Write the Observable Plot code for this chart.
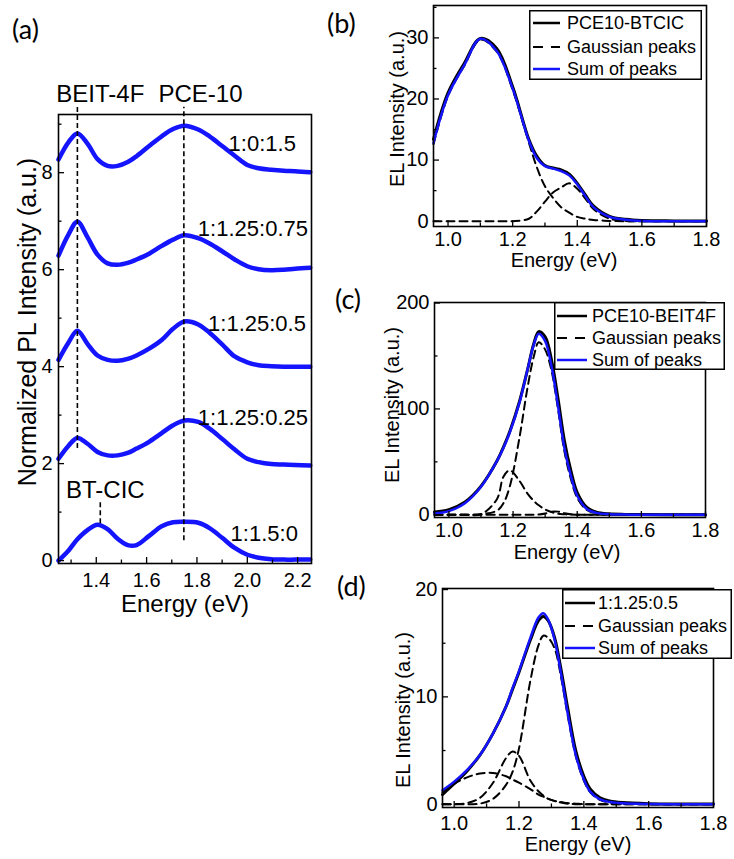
<!DOCTYPE html>
<html>
<head>
<meta charset="utf-8">
<script src="https://cdn.jsdelivr.net/npm/d3@7"></script>
<script src="https://cdn.jsdelivr.net/npm/@observablehq/plot@0.6"></script>
<style>
  html, body { margin: 0; padding: 0; background: #fff; }
  #wrap { position: relative; width: 734px; height: 859px; overflow: hidden; background: #fff; }
  .panel { position: absolute; }
</style>
</head>
<body>
<div id="wrap"></div>
<script>
// ---------------- Panel (a): normalized PL spectra ----------------
const plEnergy = [1.25,1.29,1.325,1.365,1.405,1.445,1.485,1.525,1.56,1.61,1.66,1.705,1.75,1.805,1.85,1.90,1.95,2.0,2.045,2.095,2.145,2.19,2.25];
const plRatios = ["1:0:1.5","1:1.25:0.75","1:1.25:0.5","1:1.25:0.25","1:1.5:0"];
const plR1 = [8.27,8.63,8.81,8.60,8.28,8.14,8.14,8.22,8.34,8.55,8.75,8.90,8.97,8.89,8.75,8.55,8.35,8.16,8.09,8.06,8.04,8.03,8.01];
const plR2 = [6.29,6.73,6.99,6.67,6.31,6.13,6.10,6.14,6.21,6.33,6.49,6.62,6.71,6.65,6.54,6.38,6.21,6.07,6.01,5.99,6.00,6.02,6.04];
const plR3 = [4.14,4.50,4.74,4.47,4.23,4.14,4.12,4.16,4.23,4.37,4.55,4.78,4.93,4.87,4.70,4.46,4.21,4.09,4.03,4.01,4.00,4.00,4.00];
const plR4 = [2.10,2.37,2.53,2.41,2.24,2.17,2.17,2.22,2.31,2.45,2.63,2.79,2.89,2.86,2.72,2.51,2.29,2.10,2.03,1.99,1.98,1.97,1.96];
const plR5 = [0.00,0.21,0.44,0.63,0.74,0.65,0.45,0.32,0.32,0.51,0.71,0.79,0.80,0.78,0.67,0.47,0.26,0.12,0.06,0.03,0.02,0.02,0.02];
const ratioLabelE = [2.193,2.241,2.233,2.241,2.201];
const ratioLabelI = [8.60,6.83,4.89,2.94,0.54];

const peakNames = ["BEIT-4F","PCE-10","BT-CIC"];
const peakE = [1.325,1.748,1.416];
const peakFrom = [2.31,0.41,0.76];
const peakTo = [9.35,9.35,1.24];
const peakLabelE = [1.416,1.814,1.436];
const peakLabelI = [9.62,9.62,1.44];

const aXMajor = [1.4,1.6,1.8,2.0,2.2];
const aXMinor = [1.3,1.5,1.7,1.9,2.1];
const aYMajor = [0,2,4,6,8];
const aYMinor = [1,3,5,7,9];

// ---------------- Panel (b): PCE10-BTCIC EL ----------------
const elEnergyB = [0.955,1.0,1.05,1.10,1.15,1.20,1.25,1.275,1.30,1.325,1.35,1.375,1.40,1.425,1.45,1.50,1.55,1.60,1.70,1.80];
const elDataB  = [13.4,21.0,25.8,29.9,28.3,22.0,13.4,10.6,9.1,8.7,8.4,7.7,6.2,4.3,2.5,0.8,0.3,0.1,0.05,0.05];
const elFitB   = [12.8,20.6,25.5,29.85,27.9,21.7,13.2,10.3,9.0,8.6,8.2,7.5,6.0,4.1,2.3,0.7,0.25,0.05,0,0];
const gaussB1  = [12.6,20.5,25.4,29.7,27.8,21.5,12.9,8.8,5.7,3.8,2.3,1.4,0.7,0.4,0.2,0.05,0,0,0,0];
const gaussB2  = [0,0,0,0,0,0,0.4,1.6,3.2,4.7,5.5,6.2,5.3,3.7,2.0,0.4,0.05,0,0,0];

// ---------------- Panel (c): PCE10-BEIT4F EL ----------------
const elEnergyC = [0.955,1.0,1.05,1.10,1.15,1.17,1.19,1.22,1.245,1.265,1.28,1.30,1.32,1.34,1.36,1.38,1.40,1.43,1.46,1.50,1.55,1.60,1.70,1.80];
const elDataC  = [2.6,4.8,12,27,51,64,79,107,137,162,173,168,146,110,70,42,21,7,2.5,0.9,0.4,0.2,0.1,0.1];
const elFitC   = [1.3,3.5,11,26.5,51,63,78,106,137,161,171,164,140,103,63,37,18,5.5,1.8,0.6,0.2,0.05,0,0];
const gaussC1  = [0,0,0,0.5,4,11,27,73,120,150,163,156,136,100,60,34,16,4.5,1.5,0.5,0,0,0,0];
const gaussC2  = [0,0,0,0.5,15,36,42,32,20,13,9,5,2.5,1,0.5,0.2,0,0,0,0,0,0,0,0];
const gaussC3  = [0,0,0,0,0,0,0,0,0,0,0.2,1.2,3,3,1.5,0.5,0.1,0,0,0,0,0,0,0];

// ---------------- Panel (d): 1:1.25:0.5 EL ----------------
const elEnergyD = [0.964,1.0,1.04,1.08,1.12,1.16,1.18,1.20,1.235,1.26,1.275,1.29,1.31,1.33,1.35,1.375,1.40,1.42,1.45,1.48,1.52,1.60,1.70,1.80];
const elDataD  = [0.9,1.9,3.1,4.6,6.6,9.1,10.7,12.3,15.3,17.1,17.5,17.1,15.5,12.5,9.0,5.0,2.6,1.4,0.6,0.3,0.15,0.05,0.02,0.02];
const elFitD   = [1.3,2.1,3.2,4.6,6.6,9.1,10.8,12.4,15.5,17.4,17.8,17.2,15.3,12.1,8.5,4.6,2.3,1.15,0.45,0.2,0.08,0.02,0,0];
const gaussD1  = [0,0,0,0.05,0.5,1.8,3.0,5.2,11.5,14.8,15.7,15.5,14.5,11.8,8.3,4.5,2.2,1.1,0.4,0.15,0.05,0,0,0];
const gaussD2  = [0,0,0.1,0.6,2.0,4.3,4.9,4.5,2.2,1.2,0.8,0.5,0.3,0.15,0.05,0,0,0,0,0,0,0,0,0];
const gaussD3  = [1.1,1.9,2.5,2.85,2.9,2.6,2.3,2.0,1.4,0.9,0.7,0.5,0.3,0.2,0.1,0.05,0,0,0,0,0,0,0,0];

const elXMajor = [1.0,1.2,1.4,1.6,1.8];
const elXMinor = [1.1,1.3,1.5,1.7];
const legendTexts = {
  b: ["PCE10-BTCIC","Gaussian peaks","Sum of peaks"],
  c: ["PCE10-BEIT4F","Gaussian peaks","Sum of peaks"],
  d: ["1:1.25:0.5","Gaussian peaks","Sum of peaks"]
};

// ---------------- helpers ----------------
const FONT = '"Liberation Sans", Arial, Helvetica, sans-serif';
const BLUE = "#1414ff";
const wrap = document.getElementById("wrap");
const fmt1 = d3.format(".1f");

function place(node, left, top, w, h) {
  const d = document.createElement("div");
  d.className = "panel";
  d.style.left = left + "px"; d.style.top = top + "px";
  d.style.width = w + "px"; d.style.height = h + "px";
  d.appendChild(node);
  wrap.appendChild(d);
}

function inwardTicks(xMajor, xMinor, yMajor, yMinor, fw, fh) {
  const s = {stroke: "black", strokeWidth: 1.3};
  return [
    Plot.ruleX(xMajor, {x: d => d, insetTop: fh - 6, ...s}),
    Plot.ruleX(xMinor, {x: d => d, insetTop: fh - 3.5, ...s}),
    Plot.ruleY(yMajor, {y: d => d, insetRight: fw - 6, ...s}),
    Plot.ruleY(yMinor, {y: d => d, insetRight: fw - 3.5, ...s})
  ];
}

function plotStyle() {
  return {fontFamily: FONT, fontSize: "20px", color: "black", background: "transparent", overflow: "visible"};
}

// ---------------- Panel (a) ----------------
(function () {
  const W = 320, H = 625, mt = 114, ml = 58, mr = 9, mb = 62;
  const fw = W - ml - mr, fh = H - mt - mb;
  const series = [plR1, plR2, plR3, plR4, plR5];
  const rows = [];
  series.forEach((vals, si) => vals.forEach((v, i) => rows.push({E: plEnergy[i], I: v, s: plRatios[si]})));
  const ratioRows = plRatios.map((r, i) => ({label: r, E: ratioLabelE[i], I: ratioLabelI[i]}));
  const peakRows = peakNames.map((n, i) => ({name: n, E: peakE[i], lo: peakFrom[i], hi: peakTo[i], lE: peakLabelE[i], lI: peakLabelI[i]}));
  const svg = Plot.plot({
    width: W, height: H, marginTop: mt, marginLeft: ml, marginRight: mr, marginBottom: mb,
    style: plotStyle(),
    x: {domain: [1.25, 2.255]},
    y: {domain: [-0.06, 9.2]},
    marks: [
      Plot.line(rows, {x: "E", y: "I", z: "s", stroke: BLUE, strokeWidth: 4.5, curve: "catmull-rom"}),
      Plot.ruleX(peakRows, {x: "E", y1: "lo", y2: "hi", stroke: "black", strokeWidth: 1.6, strokeDasharray: "5,3"}),
      Plot.text(ratioRows, {x: "E", y: "I", text: "label", textAnchor: "end", lineAnchor: "middle", fontSize: 22, fill: "black"}),
      Plot.text(peakRows, {x: "lE", y: "lI", text: "name", textAnchor: "middle", lineAnchor: "middle", fontSize: 24, fill: "black"}),
      ...inwardTicks(aXMajor, aXMinor, aYMajor, aYMinor, fw, fh),
      Plot.frame({stroke: "black", strokeWidth: 1.6}),
      Plot.axisX({ticks: aXMajor, tickSize: 0, tickPadding: 9, tickFormat: fmt1, label: null, fontSize: 20}),
      Plot.axisY({ticks: aYMajor, tickSize: 0, tickPadding: 6, label: null, fontSize: 20}),
      Plot.text(["Energy (eV)"], {text: d => d, frameAnchor: "bottom", textAnchor: "middle", dy: 41, lineAnchor: "middle", fontSize: 24, fill: "black"}),
      Plot.text(["Normalized PL Intensity (a.u.)"], {text: d => d, frameAnchor: "left", textAnchor: "middle", rotate: -90, dx: -31, dy: -17, lineAnchor: "middle", fontSize: 25, fill: "black"})
    ]
  });
  place(svg, 0, 0, W, H);
})();

// ---------------- EL panels ----------------
function elPanel(cfg) {
  const {left, top, W, H, mt, ml, mr, mb, xDomain, yDomain, yMajor, yMinor, energy, data, fit, gauss, padX, xtDx, xtDy, ytDx, ytDy} = cfg;
  const fw = W - ml - mr, fh = H - mt - mb;
  const toRows = arr => energy.map((e, i) => ({E: e, I: arr[i]}));
  const gRows = [];
  gauss.forEach((g, k) => g.forEach((v, i) => gRows.push({E: energy[i], I: v, k})));
  const svg = Plot.plot({
    width: W, height: H, marginTop: mt, marginLeft: ml, marginRight: mr, marginBottom: mb,
    style: plotStyle(),
    x: {domain: xDomain},
    y: {domain: yDomain},
    marks: [
      Plot.line(gRows, {x: "E", y: "I", z: "k", stroke: "black", strokeWidth: 2, strokeDasharray: "8,5", curve: "catmull-rom"}),
      Plot.line(toRows(data), {x: "E", y: "I", stroke: "black", strokeWidth: 3, curve: "catmull-rom"}),
      Plot.line(toRows(fit), {x: "E", y: "I", stroke: BLUE, strokeWidth: 2.5, curve: "catmull-rom"}),
      ...inwardTicks(elXMajor, elXMinor, yMajor, yMinor, fw, fh),
      Plot.frame({stroke: "black", strokeWidth: 1.6}),
      Plot.axisX({ticks: elXMajor, tickSize: 0, tickPadding: padX, tickFormat: fmt1, label: null, fontSize: 20}),
      Plot.axisY({ticks: yMajor, tickSize: 0, tickPadding: 5, label: null, fontSize: 20}),
      Plot.text(["Energy (eV)"], {text: d => d, frameAnchor: "bottom", textAnchor: "middle", dx: xtDx, dy: xtDy, lineAnchor: "middle", fontSize: 20, fill: "black"}),
      Plot.text(["EL Intensity (a.u.)"], {text: d => d, frameAnchor: "left", textAnchor: "middle", rotate: -90, dx: ytDx, dy: ytDy, lineAnchor: "middle", fontSize: 20, fill: "black"})
    ]
  });
  place(svg, left, top, W, H);
}

elPanel({left: 320, top: 0, W: 414, H: 275, mt: 5, ml: 113, mr: 28, mb: 49,
  xDomain: [0.955, 1.8], yDomain: [-0.87, 35.3], yMajor: [0,10,20,30], yMinor: [5,15,25,35],
  energy: elEnergyB, data: elDataB, fit: elFitB, gauss: [gaussB1, gaussB2],
  padX: 5, xtDx: -6, xtDy: 34, ytDx: -36, ytDy: -7});

elPanel({left: 320, top: 270, W: 414, H: 300, mt: 32, ml: 114, mr: 29, mb: 53,
  xDomain: [0.955, 1.8], yDomain: [-2.55, 200.5], yMajor: [0,100,200], yMinor: [50,150],
  energy: elEnergyC, data: elDataC, fit: elFitC, gauss: [gaussC1, gaussC2, gaussC3],
  padX: 5, xtDx: -3, xtDy: 35, ytDx: -42, ytDy: -5});

elPanel({left: 320, top: 560, W: 414, H: 299, mt: 28, ml: 122, mr: 21, mb: 52,
  xDomain: [0.964, 1.8], yDomain: [-0.31, 20.1], yMajor: [0,10,20], yMinor: [5,15],
  energy: elEnergyD, data: elDataD, fit: elFitD, gauss: [gaussD1, gaussD2, gaussD3],
  padX: 8, xtDx: 0, xtDy: 37, ytDx: -39, ytDy: 12});

// ---------------- legends ----------------
function legend(left, top, w, h, rowsY, x0, x1, tx, texts) {
  const svg = d3.create("svg")
    .attr("width", w).attr("height", h)
    .style("position", "absolute").style("left", left + "px").style("top", top + "px")
    .style("overflow", "visible");
  svg.append("rect").attr("x", 0.75).attr("y", 0.75).attr("width", w - 1.5).attr("height", h - 1.5)
    .attr("fill", "white").attr("stroke", "black").attr("stroke-width", 1.5);
  const st = [
    {stroke: "black", width: 2.5, dash: null},
    {stroke: "black", width: 2.2, dash: "10,8"},
    {stroke: BLUE, width: 2.5, dash: null}
  ];
  rowsY.forEach((y, i) => {
    const l = svg.append("line").attr("x1", x0).attr("x2", x1).attr("y1", y).attr("y2", y)
      .attr("stroke", st[i].stroke).attr("stroke-width", st[i].width);
    if (st[i].dash) l.attr("stroke-dasharray", st[i].dash);
    svg.append("text").attr("x", tx).attr("y", y).attr("dy", "0.36em")
      .attr("font-family", FONT).attr("font-size", 18).attr("fill", "black").text(texts[i]);
  });
  wrap.appendChild(svg.node());
}
legend(529, 10, 173, 70, [13, 37, 59], 4, 31, 38, legendTexts.b);
legend(554, 302, 171, 68, [14, 36, 58], 3, 33, 38, legendTexts.c);
legend(562, 589, 170, 70, [14, 37, 59], 3, 33, 36, legendTexts.d);

// ---------------- panel letters ----------------
(function () {
  const labels = [["(a)", 12, 39], ["(b)", 327, 33], ["(c)", 335, 309], ["(d)", 337, 596]];
  const svg = d3.create("svg").attr("width", 734).attr("height", 859)
    .style("position", "absolute").style("left", "0px").style("top", "0px").style("pointer-events", "none");
  labels.forEach(([t, x, y]) => svg.append("text").attr("x", x).attr("y", y)
    .attr("font-family", 'Lato, "Open Sans", sans-serif').attr("font-size", 27).attr("fill", "black").text(t));
  wrap.appendChild(svg.node());
})();
</script>
</body>
</html>
